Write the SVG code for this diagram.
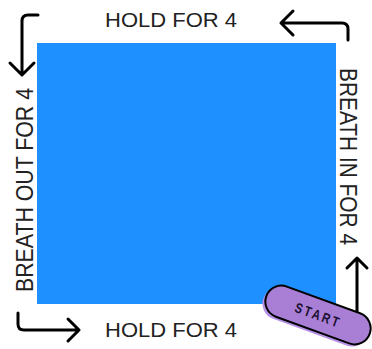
<svg xmlns="http://www.w3.org/2000/svg" width="372" height="349" viewBox="0 0 372 349">
<style>
.lbl{font-family:"Liberation Sans",Arial,sans-serif;font-size:21px;fill:#222}
.arr{fill:none;stroke:#000;stroke-width:3;stroke-linecap:round;stroke-linejoin:round}
.st{font-family:"Liberation Sans",Arial,sans-serif;font-weight:bold;font-size:14px;fill:#1b1030;letter-spacing:3px}
</style>
<rect width="372" height="349" fill="#fff"/>
<g id="square"><rect x="37" y="43" width="299" height="261" fill="#1e90ff"/></g>
<g id="hold-top"><text class="lbl" x="105" y="27" textLength="132" lengthAdjust="spacingAndGlyphs">HOLD FOR 4</text></g>
<g id="hold-bottom"><text class="lbl" x="105" y="337" textLength="132" lengthAdjust="spacingAndGlyphs">HOLD FOR 4</text></g>
<g id="breath-in"><text class="lbl" style="font-size:23px" x="340" y="68" transform="rotate(90 340 68)" textLength="177" lengthAdjust="spacingAndGlyphs">BREATH IN FOR 4</text></g>
<g id="breath-out"><text class="lbl" style="font-size:23px" x="33" y="292" transform="rotate(-90 33 292)" textLength="204" lengthAdjust="spacingAndGlyphs">BREATH OUT FOR 4</text></g>
<g id="connectors">
<path class="arr" d="M38,15 L28,15 Q22,15 22,21 L22,75 M10,63 L22,75 L34,63"/>
<path class="arr" d="M348,40 L348,29 Q348,23 342,23 L281,23 M293,11 L281,23 L293,35"/>
<path class="arr" d="M18,313 L18,324 Q18,330 24,330 L79,330 M68,319 L79,330 L68,341"/>
<path class="arr" d="M357,312 L357,258 M347,268 L357,258 L367,268"/>
</g>
<g id="start" transform="translate(318 315) rotate(20)">
<rect x="-57" y="-13" width="110" height="32" rx="16" fill="#b892e6"/>
<rect x="-55" y="-16" width="110" height="32" rx="16" fill="#a97fd6" stroke="#000" stroke-width="2"/>
<text class="st" x="-30" y="5" transform="scale(0.8 1)">START</text>
</g>
</svg>
